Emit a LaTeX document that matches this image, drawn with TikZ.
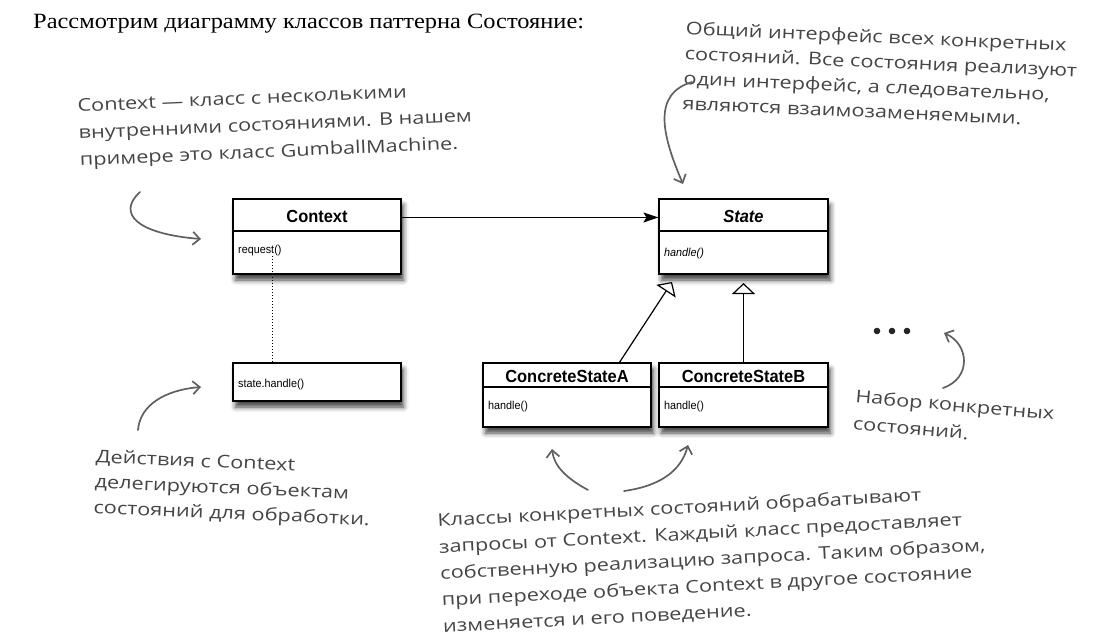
\documentclass[tikz,border=0pt]{standalone}
\usepackage{fontspec}
\setmainfont{Liberation Serif}
\newfontfamily\umlfont[FakeStretch=0.94]{Liberation Sans}
\newfontfamily\handfont[FakeStretch=1.24]{Open Sans}
\newfontfamily\titlefont[FakeStretch=1.12]{Liberation Serif}
\usetikzlibrary{arrows.meta,calc,shadows.blur}
\definecolor{ink}{HTML}{454545}
\definecolor{penc}{HTML}{606060}
\begin{document}
\begin{tikzpicture}[x=1pt,y=-1pt,
  cls/.style={draw=black, line width=1.1pt, fill=white, inner sep=0pt,
    blur shadow={shadow xshift=2.5pt, shadow yshift=-6pt, shadow blur radius=5pt, shadow opacity=75}},
  hdr/.style={font=\umlfont\bfseries\fontsize{17.5}{20}\selectfont, inner sep=0pt},
  hdri/.style={font=\umlfont\bfseries\itshape\fontsize{17.5}{20}\selectfont, inner sep=0pt},
  op/.style={font=\umlfont\fontsize{11.5}{14}\selectfont, anchor=base west, inner sep=0pt},
  opi/.style={font=\umlfont\itshape\fontsize{11.5}{14}\selectfont, anchor=base west, inner sep=0pt},
  hand/.style={text=ink, anchor=north west, inner sep=0pt, align=left},
  pen/.style={draw=penc, line width=1.7pt, line cap=round, -{Straight Barb[length=7pt,width=13pt,line width=1.7pt]}},
  assoc/.style={draw=black, line width=1.6pt, -{Stealth[length=15pt,width=10pt,inset=3pt]}},
  inherit/.style={draw=black, line width=1.2pt, -{Triangle[open,length=11pt,width=23pt,fill=white]}}
]
\path[use as bounding box] (0,0) rectangle (1098,637);

% title
\node[anchor=base west, inner sep=0pt, font=\titlefont\fontsize{21.8}{24}\selectfont] (title) at (33,28) {Рассмотрим диаграмму классов паттерна Состояние:};

% class boxes
\node[cls, minimum width=168pt, minimum height=75pt] (ctx) at (317,236.5) {};
\node[cls, minimum width=169pt, minimum height=75pt] (st) at (743.5,236.5) {};
\node[cls, minimum width=168pt, minimum height=38pt] (sh) at (317,382) {};
\node[cls, minimum width=168pt, minimum height=64pt] (ca) at (567,395) {};
\node[cls, minimum width=169pt, minimum height=64pt] (cb) at (743.5,395) {};

% header separators
\draw[line width=1.1pt] (ctx.west |- 0,231) -- (ctx.east |- 0,231);
\draw[line width=1.1pt] (st.west |- 0,231) -- (st.east |- 0,231);
\draw[line width=1.1pt] (ca.west |- 0,387) -- (ca.east |- 0,387);
\draw[line width=1.1pt] (cb.west |- 0,387) -- (cb.east |- 0,387);

% texts
\node[hdr] (ctxT) at (317,216) {Context};
\node[hdri] (stT) at (743.5,216) {State};
\node[hdr] (caT) at (567,376) {ConcreteStateA};
\node[hdr] (cbT) at (743.5,376) {ConcreteStateB};
\node[op] (ctxO) at (238,253) {request()};
\node[opi] (stO) at (664,256) {handle()};
\node[op] (shO) at (238,387) {state.handle()};
\node[op] (caO) at (488,409) {handle()};
\node[op] (cbO) at (664,409) {handle()};

% connectors
\draw[assoc] ($(ctx.north east)!0.25!(ctx.south east)$) -- ($(st.north west)!0.25!(st.south west)$);
\coordinate (tA) at (672,282);
\draw[inherit] ($(ca.north west)!0.81!(ca.north east)$) -- (tA);
\draw[inherit] (cb.north) -- (cb.north |- 0,283);
\coordinate (dTop) at (272,256);
\draw[line width=1pt, dotted] (dTop) -- (dTop |- sh.north);

% ellipsis
\fill[black!85] (877,331) circle (3.3) (892,331) circle (3.3) (907,331) circle (3.3);

% hand notes
\node[hand, rotate=2.5, font=\handfont\fontsize{17.5}{27}\selectfont] (n1) at (77,99)
  {Context — класс с несколькими\\внутренними состояниями. В нашем\\примере это класс GumballMachine.};
\node[hand, rotate=-2.5, font=\handfont\fontsize{17.5}{25}\selectfont] (n2) at (686,21)
  {Общий интерфейс всех конкретных\\состояний. Все состояния реализуют\\один интерфейс, а следовательно,\\являются взаимозаменяемыми.};
\node[hand, rotate=-2.5, font=\handfont\fontsize{17.5}{25.5}\selectfont] (n3) at (96,449)
  {Действия с Context\\делегируются объектам\\состояний для обработки.};
\node[hand, rotate=-5, font=\handfont\fontsize{17.5}{27}\selectfont] (n4) at (856,389)
  {Набор конкретных\\состояний.};
\node[hand, rotate=3, font=\handfont\fontsize{17.5}{26.5}\selectfont] (n5) at (437,513)
  {Классы конкретных состояний обрабатывают\\запросы от Context. Каждый класс предоставляет\\собственную реализацию запроса. Таким образом,\\при переходе объекта Context в другое состояние\\изменяется и его поведение.};

% hand arrows
\coordinate (p1) at (140,192); \coordinate (q1) at (201,239);
\draw[pen] (p1) .. controls (116,214) and (138,234) .. (q1);
\coordinate (p2) at (692,82); \coordinate (q2) at (683,184);
\draw[pen] (p2) .. controls (652,94) and (662,135) .. (q2);
\coordinate (p3) at (138,430); \coordinate (q3) at (201,387);
\draw[pen] (p3) .. controls (140,405) and (165,390) .. (q3);
\coordinate (p4) at (588,490); \coordinate (q4) at (552,449);
\draw[pen] (p4) .. controls (566,478) and (554,466) .. (q4);
\coordinate (p5) at (624,491); \coordinate (q5) at (688,445);
\draw[pen] (p5) .. controls (660,486) and (681,471) .. (q5);
\coordinate (p6) at (943,388); \coordinate (q6) at (944,333);
\draw[pen] (p6) .. controls (972,378) and (969,344) .. (q6);
\end{tikzpicture}
\end{document}
